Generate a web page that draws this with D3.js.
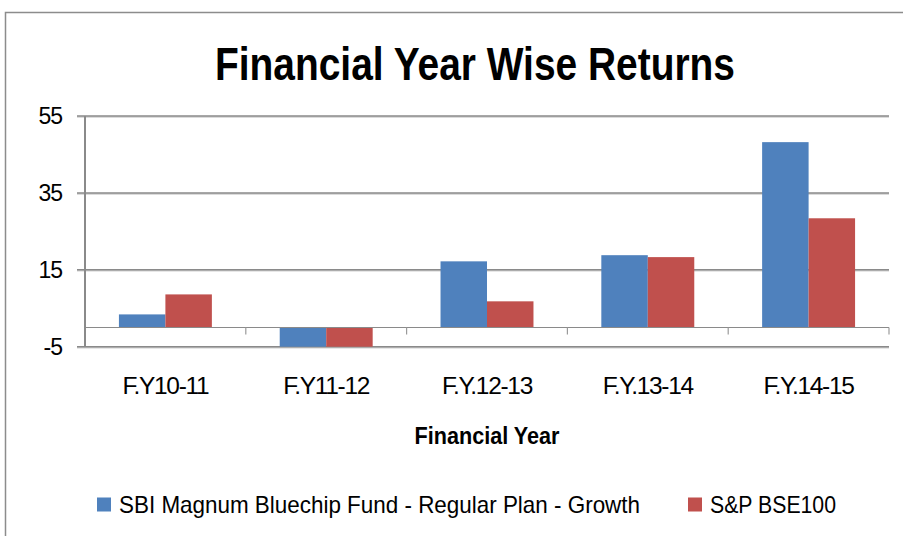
<!DOCTYPE html>
<html><head><meta charset="utf-8">
<script src="https://cdn.jsdelivr.net/npm/d3@7/dist/d3.min.js"></script>
<style>html,body{margin:0;padding:0;background:#fff;}svg{display:block;}</style>
</head><body>
<svg id="chart" width="903" height="536"></svg>
<script>
const categories = ["F.Y10-11", "F.Y11-12", "F.Y.12-13", "F.Y.13-14", "F.Y.14-15"];
const seriesNames = ["SBI Magnum Bluechip Fund - Regular Plan - Growth", "S&P BSE100"];
const sbiValues = [3.4, -5, 17.2, 18.8, 48.2];
const bseValues = [8.6, -5, 6.8, 18.3, 28.4];
const yTicks = [-5, 15, 35, 55];
const colors = ["#4F81BD", "#C0504D"];
const titleText = "Financial Year Wise Returns";
const xAxisTitle = "Financial Year";

(function () {
const svg = d3.select("#chart");
const font = "'Liberation Sans', Arial, Helvetica, sans-serif";

// outer border
svg.append("rect").attr("x", 5.5).attr("y", 12.5).attr("width", 910).attr("height", 540)
  .attr("fill", "#fff").attr("stroke", "#8c8c8c").attr("stroke-width", 1.5);

const pLeft = 85, pRight = 889, pTop = 116, pBottom = 346.7;
const x0 = d3.scaleBand().domain(categories).range([pLeft, pRight]).padding(0);
const x1 = d3.scaleBand().domain([0, 1]).range([0, x0.bandwidth()]).paddingInner(0).paddingOuter(0.73);
const y = d3.scaleLinear().domain([-5, 55]).range([pBottom, pTop]);

// title
svg.append("text").attr("x", 475).attr("y", 80).attr("text-anchor", "middle")
  .attr("font-family", font).attr("font-weight", "bold").attr("font-size", 46)
  .attr("textLength", 520).attr("lengthAdjust", "spacingAndGlyphs")
  .attr("fill", "#000").text(titleText);

// gridlines
const grid = svg.append("g");
yTicks.forEach(t => {
  grid.append("line").attr("x1", pLeft - 8).attr("x2", pRight).attr("y1", y(t) + 1).attr("y2", y(t) + 1)
    .attr("stroke", "#cfcfcf").attr("stroke-width", 1.5);
  grid.append("line").attr("x1", pLeft - 8).attr("x2", pRight).attr("y1", y(t)).attr("y2", y(t))
    .attr("stroke", "#8a8a8a").attr("stroke-width", 1.5);
});

// y axis line
svg.append("line").attr("x1", pLeft).attr("x2", pLeft).attr("y1", pTop).attr("y2", pBottom)
  .attr("stroke", "#8a8a8a").attr("stroke-width", 2);

// y tick labels via axis
const yAxis = d3.axisLeft(y).tickValues(yTicks).tickSize(0).tickPadding(23).tickFormat(d => String(d));
const yg = svg.append("g").attr("transform", `translate(${pLeft},0)`).call(yAxis);
yg.select(".domain").remove();
yg.selectAll("text").attr("font-family", font).attr("font-size", 23).attr("fill", "#000")
  .attr("letter-spacing", -1);

// bars
const data = categories.map((c, i) => ({cat: c, vals: [sbiValues[i], bseValues[i]]}));
const groups = svg.append("g").selectAll("g").data(data).join("g")
  .attr("transform", d => `translate(${x0(d.cat)},0)`);
groups.selectAll("rect").data(d => d.vals.map((v, k) => ({k, v}))).join("rect")
  .attr("x", d => x1(d.k))
  .attr("width", x1.bandwidth())
  .attr("y", d => y(Math.max(0, d.v)))
  .attr("height", d => Math.abs(y(d.v) - y(0)))
  .attr("fill", d => colors[d.k]);

// zero axis with category ticks
svg.append("line").attr("x1", pLeft).attr("x2", pRight).attr("y1", y(0)).attr("y2", y(0))
  .attr("stroke", "#8a8a8a").attr("stroke-width", 1.2);
const boundaries = categories.map(c => x0(c) + x0.bandwidth());
boundaries.forEach(bx => {
  svg.append("line").attr("x1", bx).attr("x2", bx).attr("y1", y(0)).attr("y2", y(0) + 7)
    .attr("stroke", "#9a9a9a").attr("stroke-width", 1.2);
});

// category labels
const xg = svg.append("g").attr("transform", `translate(0,${pBottom})`)
  .call(d3.axisBottom(x0).tickSize(0).tickPadding(30));
xg.select(".domain").remove();
xg.selectAll("text").attr("font-family", font).attr("font-size", 24.5).attr("fill", "#000")
  .attr("letter-spacing", -1.3);

// x axis title
svg.append("text").attr("x", (pLeft + pRight) / 2).attr("y", 444).attr("text-anchor", "middle")
  .attr("font-family", font).attr("font-weight", "bold").attr("font-size", 23)
  .attr("textLength", 145).attr("lengthAdjust", "spacingAndGlyphs")
  .attr("fill", "#000").text(xAxisTitle);

// legend
const legendItems = [{x: 97, label: seriesNames[0], c: colors[0], w: 521}, {x: 688, label: seriesNames[1], c: colors[1], w: 126}];
const lg = svg.append("g");
legendItems.forEach(it => {
  lg.append("rect").attr("x", it.x).attr("y", 497.5).attr("width", 14).attr("height", 14).attr("fill", it.c);
  lg.append("text").attr("x", it.x + 22).attr("y", 513).attr("font-family", font).attr("font-size", 24)
    .attr("textLength", it.w).attr("lengthAdjust", "spacingAndGlyphs")
    .attr("fill", "#000").text(it.label);
});
})();
</script>
</body></html>
